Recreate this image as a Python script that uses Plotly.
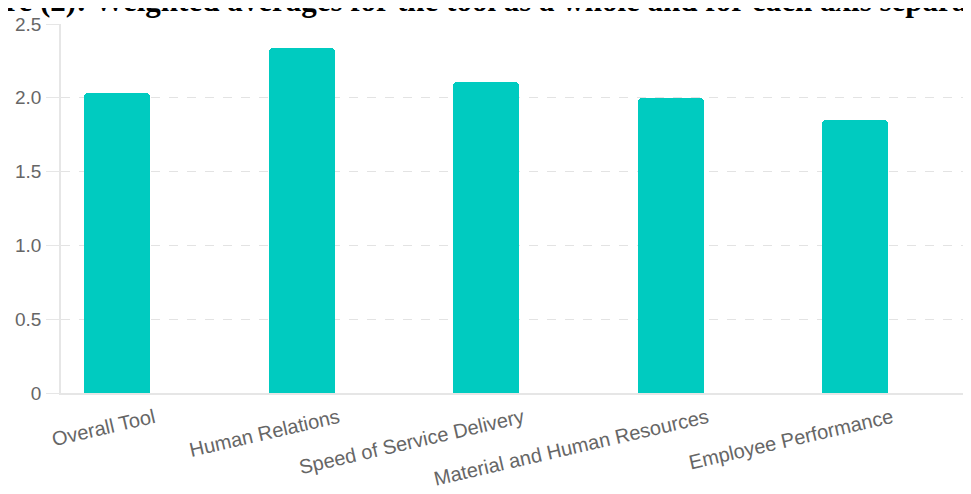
import plotly.graph_objects as go

categories = ["Overall Tool", "Human Relations", "Speed of Service Delivery",
              "Material and Human Resources", "Employee Performance"]
values = [2.03, 2.34, 2.11, 2.00, 1.85]
y_tickvals = [0, 0.5, 1.0, 1.5, 2.0, 2.5]
y_ticktext = ["0", "0.5", "1.0", "1.5", "2.0", "2.5"]
title_text = "Figure (2): Weighted averages for the tool as a whole and for each axis separately"

# page body has an 8px default margin; compensate in figure coordinates
W, H = 971, 494
L, R, T, B = 53, 0, 16, 109

fig = go.Figure()
fig.add_trace(go.Bar(
    x=list(range(len(categories))), y=values,
    width=0.358,
    marker=dict(color="#00CBC0", cornerradius=4, line=dict(width=0)),
    hoverinfo="skip",
))

fig.update_layout(
    width=W, height=H,
    margin=dict(l=L, r=R, t=T, b=B, pad=0, autoexpand=False),
    plot_bgcolor="white", paper_bgcolor="white",
    showlegend=False,
    font=dict(family="Liberation Sans, Arial, sans-serif", color="#666666", size=17),
    bargap=0,
)
fig.update_xaxes(
    automargin=False,
    range=[-0.304, 4.672],
    tickvals=list(range(len(categories))), ticktext=categories,
    tickangle=-13, ticklabelshift=37, ticklabelstandoff=4,
    tickfont=dict(size=20, color="#666666"),
    showgrid=False, zeroline=False,
    showline=True, linecolor="#e6e6e6", linewidth=1.5,
    ticks="",
)
fig.update_yaxes(
    automargin=False,
    range=[0, 2.5],
    tickvals=y_tickvals, ticktext=y_ticktext,
    tickfont=dict(size=19, color="#666666"),
    showgrid=True, gridcolor="#e3e3e3", griddash="dash", gridwidth=1,
    zeroline=False,
    showline=True, linecolor="#e6e6e6", linewidth=1.5,
    ticks="outside", ticklen=13, tickcolor="#e6e6e6", tickwidth=1,
    ticklabelstandoff=1,
)

# partially cropped caption at top of the image
fig.add_annotation(
    text="<b>" + title_text + "</b>",
    xref="paper", yref="paper",
    x=(-65 - L) / (W - L - R), y=1 + (T - 12) / (H - T - B),
    xanchor="left", yanchor="bottom",
    showarrow=False,
    font=dict(family="Liberation Serif, Times New Roman, serif", size=31, color="black"),
)

fig.write_html("out.html")
